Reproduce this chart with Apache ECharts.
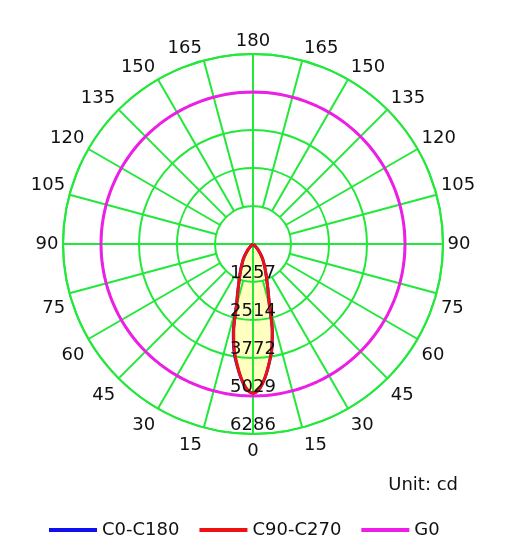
<!DOCTYPE html>
<html>
<head>
<meta charset="utf-8">
<title>Polar light distribution</title>
<script src="https://cdn.jsdelivr.net/npm/echarts@6/dist/echarts.min.js"></script>
<style>
  html, body { margin: 0; padding: 0; background: #fff; }
  #chart { width: 511px; height: 547px; }
</style>
</head>
<body>
<div id="chart"></div>
<script>
// gamma angles (deg from nadir) and intensities (cd)
var gammaAngles = [0, 2.5, 5, 7.5, 10, 12.5, 15, 17.5, 20, 22.5, 25, 27.5, 30, 32.5, 35, 37.5, 40, 42.5, 45, 50, 55, 60, 70, 80, 90];
var c0Values   = [4930, 4800, 4460, 4020, 3560, 2950, 2100, 1680, 1370, 1150, 970, 830, 700, 600, 480, 380, 290, 210, 140, 60, 20, 0, 0, 0, 0];
var c180Values = [4930, 4800, 4470, 4050, 3620, 3010, 2130, 1690, 1370, 1150, 970, 830, 700, 600, 480, 380, 290, 210, 140, 60, 20, 0, 0, 0, 0];
var c90Values  = [4930, 4800, 4460, 4020, 3560, 2950, 2100, 1680, 1370, 1150, 970, 830, 700, 600, 480, 380, 290, 210, 140, 60, 20, 0, 0, 0, 0];
var c270Values = [4930, 4800, 4460, 4020, 3560, 2950, 2100, 1680, 1370, 1150, 970, 830, 700, 600, 480, 380, 290, 210, 140, 60, 20, 0, 0, 0, 0];

// G0 ring
var g0Intensity = 5029;

// radial scale
var ringMax = 6286;
var ringStep = 1257.2;
var ringLabels = ["1257", "2514", "3772", "5029", "6286"];
var spokeAngles = [0, 15, 30, 45, 60, 75, 90, 105, 120, 135, 150, 165, 180, 195, 210, 225, 240, 255, 270, 285, 300, 315, 330, 345];

var gridColor = "#22e83a";
var fontFam = "DejaVu Sans, Verdana, sans-serif";

// left half uses angle g, right half uses 360 - g
function lobe(leftVals, rightVals) {
	var pts = [];
	for (var i = gammaAngles.length - 1; i >= 0; i--) {
		pts.push([leftVals[i], gammaAngles[i]]);
	}
	for (var j = 0; j < gammaAngles.length; j++) {
		pts.push([rightVals[j], 360 - gammaAngles[j]]);
	}
	return pts;
}

// angle label, anchored by its corner just outside the spoke end
function angleLabelItem(a) {
	var shown = a > 180 ? 360 - a : a;
	var rad = shown * Math.PI / 180;
	var side = Math.sin(rad), updown = Math.abs(Math.cos(rad));
	var align = "center", vAlign = "middle", dx = 0, dy = 0;
	if (a > 0 && a < 180) { align = "right"; dx = -(1 + 3.5 * side); }
	if (a > 180) { align = "left"; dx = 1 + 3.5 * side; }
	if (shown > 90) { vAlign = "bottom"; dy = -3.5 * updown; }
	if (shown < 90) { vAlign = "top"; dy = 5.8 + 2.8 * updown; }
	return {
		value: [ringMax, a],
		label: {
			formatter: String(shown),
			position: [dx, dy],
			align: align,
			verticalAlign: vAlign
		}
	};
}

var myChart = echarts.init(document.getElementById("chart"));

var series = [];

// spokes from the first ring out, axes through the centre
for (var k = 0; k < spokeAngles.length; k++) {
	var a = spokeAngles[k];
	if (a % 90 === 0) {
		if (a >= 180) continue;
		series.push({
			type: "line", coordinateSystem: "polar", silent: true, z: 4,
			symbol: "none", animation: false,
			lineStyle: { color: gridColor, width: 2 },
			data: [[ringMax, a], [ringMax, a + 180]]
		});
	} else {
		series.push({
			type: "line", coordinateSystem: "polar", silent: true, z: 4,
			symbol: "none", animation: false,
			lineStyle: { color: gridColor, width: 2 },
			data: [[ringStep, a], [ringMax, a]]
		});
	}
}

// yellow fill under the grid
series.push({
	type: "line", coordinateSystem: "polar", silent: true, z: 1,
	symbol: "none", animation: false,
	lineStyle: { width: 0, opacity: 0 },
	areaStyle: { color: "#ffffc0", opacity: 1 },
	data: lobe(c270Values, c90Values)
});

var g0Data = [];
for (var g = 0; g <= 360; g += 2.5) g0Data.push([g0Intensity, g]);

series.push({
	name: "G0",
	type: "line", coordinateSystem: "polar", silent: true, z: 5,
	symbol: "none", animation: false,
	itemStyle: { color: "#ee1ee8" },
	lineStyle: { color: "#ee1ee8", width: 3 },
	data: g0Data
});

series.push({
	name: "C0-C180",
	type: "line", coordinateSystem: "polar", silent: true, z: 6,
	symbol: "none", smooth: 0.3, animation: false,
	itemStyle: { color: "#1010ee" },
	lineStyle: { color: "#1010ee", width: 3 },
	data: lobe(c180Values, c0Values)
});

series.push({
	name: "C90-C270",
	type: "line", coordinateSystem: "polar", silent: true, z: 7,
	symbol: "none", smooth: 0.3, animation: false,
	itemStyle: { color: "#ee1111" },
	lineStyle: { color: "#ee1111", width: 3 },
	data: lobe(c270Values, c90Values)
});

// ring value labels along the 0 degree line
series.push({
	type: "scatter", coordinateSystem: "polar", silent: true, z: 8,
	symbolSize: 0, animation: false,
	itemStyle: { opacity: 1 },
	label: {
		show: true,
		position: "top",
		distance: 0,
		color: "#111",
		opacity: 1,
		fontSize: 18,
		fontFamily: fontFam,
		formatter: function(p) { return ringLabels[p.dataIndex]; }
	},
	data: ringLabels.map(function(t, i) { return [ringStep * (i + 1), 0]; })
});

// angle labels round the outer ring
series.push({
	type: "scatter", coordinateSystem: "polar", silent: true, z: 8,
	symbolSize: 0, animation: false,
	itemStyle: { opacity: 1 },
	label: {
		show: true,
		color: "#111",
		opacity: 1,
		fontSize: 18,
		fontFamily: fontFam
	},
	data: spokeAngles.map(angleLabelItem)
});

var option = {
	backgroundColor: "#fff",
	animation: false,
	title: {
		text: "Unit: cd",
		right: 48,
		top: 471,
		textStyle: { fontSize: 18, fontWeight: "normal", color: "#111", fontFamily: fontFam }
	},
	legend: {
		data: ["C0-C180", "C90-C270", "G0"],
		left: 44,
		top: 516,
		icon: "rect",
		itemWidth: 48,
		itemHeight: 4,
		itemGap: 20,
		textStyle: { fontSize: 18, color: "#111", fontFamily: fontFam }
	},
	polar: {
		center: [253, 244],
		radius: 190
	},
	angleAxis: {
		type: "value",
		min: 0,
		max: 360,
		interval: 15,
		startAngle: 270,
		clockwise: true,
		z: 3,
		axisLine: { show: true, lineStyle: { color: gridColor, width: 2 } },
		axisTick: { show: false },
		splitLine: { show: false },
		axisLabel: { show: false }
	},
	radiusAxis: {
		type: "value",
		min: 0,
		max: ringMax,
		interval: ringStep,
		z: 3,
		axisLine: { show: false },
		axisTick: { show: false },
		axisLabel: { show: false },
		splitLine: { show: true, lineStyle: { color: gridColor, width: 2 } }
	},
	series: series
};

myChart.setOption(option);
</script>
</body>
</html>
